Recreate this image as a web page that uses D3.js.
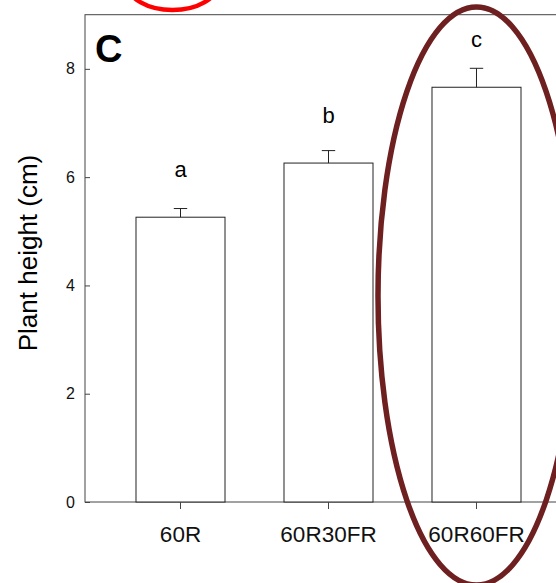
<!DOCTYPE html>
<html>
<head>
<meta charset="utf-8">
<script src="https://cdn.jsdelivr.net/npm/d3@7"></script>
<style>
  html, body { margin: 0; padding: 0; background: #fff; }
  svg { display: block; font-family: "Liberation Sans", Arial, sans-serif; }
</style>
</head>
<body>
<svg id="chart" width="556" height="583"></svg>
<script>
// Treatments, mean plant height (cm), standard error and significance letters
const treatments = ["60R", "60R30FR", "60R60FR"];
const heights = [5.26, 6.26, 7.66];
const errors = [0.16, 0.23, 0.35];
const letters = ["a", "b", "c"];
const yTicks = [0, 2, 4, 6, 8];

const svg = d3.select("#chart");
const plotLeft = 85, plotRight = 572, plotTop = 14.7, plotBottom = 502;

const x = d3.scaleBand()
  .domain(treatments)
  .range([plotLeft, plotRight])
  .paddingInner(0.3986)
  .paddingOuter(0.3446);

const y = d3.scaleLinear().domain([0, 9]).range([plotBottom, plotTop]);

// frame
svg.append("rect")
  .attr("x", plotLeft).attr("y", plotTop)
  .attr("width", plotRight - plotLeft).attr("height", plotBottom - plotTop)
  .attr("fill", "none").attr("stroke", "#444").attr("stroke-width", 1);

// bars
svg.append("g").selectAll("rect")
  .data(treatments)
  .join("rect")
  .attr("x", d => x(d))
  .attr("y", (d, i) => y(heights[i]))
  .attr("width", x.bandwidth())
  .attr("height", (d, i) => y(0) - y(heights[i]))
  .attr("fill", "#fff")
  .attr("stroke", "#222")
  .attr("stroke-width", 1);

// error bars (upper only)
const eb = svg.append("g").attr("stroke", "#222").attr("stroke-width", 1);
treatments.forEach((t, i) => {
  const cx = x(t) + x.bandwidth() / 2;
  eb.append("line").attr("x1", cx).attr("x2", cx)
    .attr("y1", y(heights[i])).attr("y2", y(heights[i] + errors[i]));
  eb.append("line").attr("x1", cx - 6.7).attr("x2", cx + 6.7)
    .attr("y1", y(heights[i] + errors[i])).attr("y2", y(heights[i] + errors[i]));
});

// significance letters, set a fixed distance above each mean
svg.append("g").selectAll("text")
  .data(treatments)
  .join("text")
  .attr("x", d => x(d) + x.bandwidth() / 2)
  .attr("y", (d, i) => y(heights[i] + 0.74))
  .attr("text-anchor", "middle")
  .attr("font-size", 22)
  .text((d, i) => letters[i]);

// y axis (ticks pointing inward)
const yAxis = svg.append("g")
  .attr("transform", `translate(${plotLeft},0)`)
  .call(d3.axisLeft(y).tickValues(yTicks).tickSizeInner(-5).tickSizeOuter(0).tickPadding(10));
yAxis.select(".domain").remove();
yAxis.selectAll("line").attr("stroke", "#444");
yAxis.selectAll("text").attr("font-size", 16).attr("fill", "#111")
  .attr("font-family", "'Liberation Sans', Arial, sans-serif");

// x axis (ticks pointing outward)
const xAxis = svg.append("g")
  .attr("transform", `translate(0,${plotBottom})`)
  .call(d3.axisBottom(x).tickSizeInner(7).tickSizeOuter(0).tickPadding(17));
xAxis.select(".domain").remove();
xAxis.selectAll("line").attr("stroke", "#444");
xAxis.selectAll("text").attr("font-size", 22.5).attr("fill", "#111")
  .attr("font-family", "'Liberation Sans', Arial, sans-serif");

// y axis title
svg.append("text")
  .attr("transform", "translate(37,253) rotate(-90)")
  .attr("text-anchor", "middle")
  .attr("font-size", 26)
  .text("Plant height (cm)");

// panel letter
svg.append("text")
  .attr("x", 95).attr("y", 62)
  .attr("font-size", 38).attr("font-weight", "bold")
  .text("C");

// highlight ovals
svg.append("ellipse")
  .attr("cx", 172.5).attr("cy", -16).attr("rx", 45).attr("ry", 26)
  .attr("fill", "none").attr("stroke", "#ff0000").attr("stroke-width", 4.5);
svg.append("ellipse")
  .attr("cx", x("60R60FR") + x.bandwidth() / 2).attr("cy", 296).attr("rx", 98.5).attr("ry", 289)
  .attr("fill", "none").attr("stroke", "#6e1f1f").attr("stroke-width", 5.5);
</script>
</body>
</html>
